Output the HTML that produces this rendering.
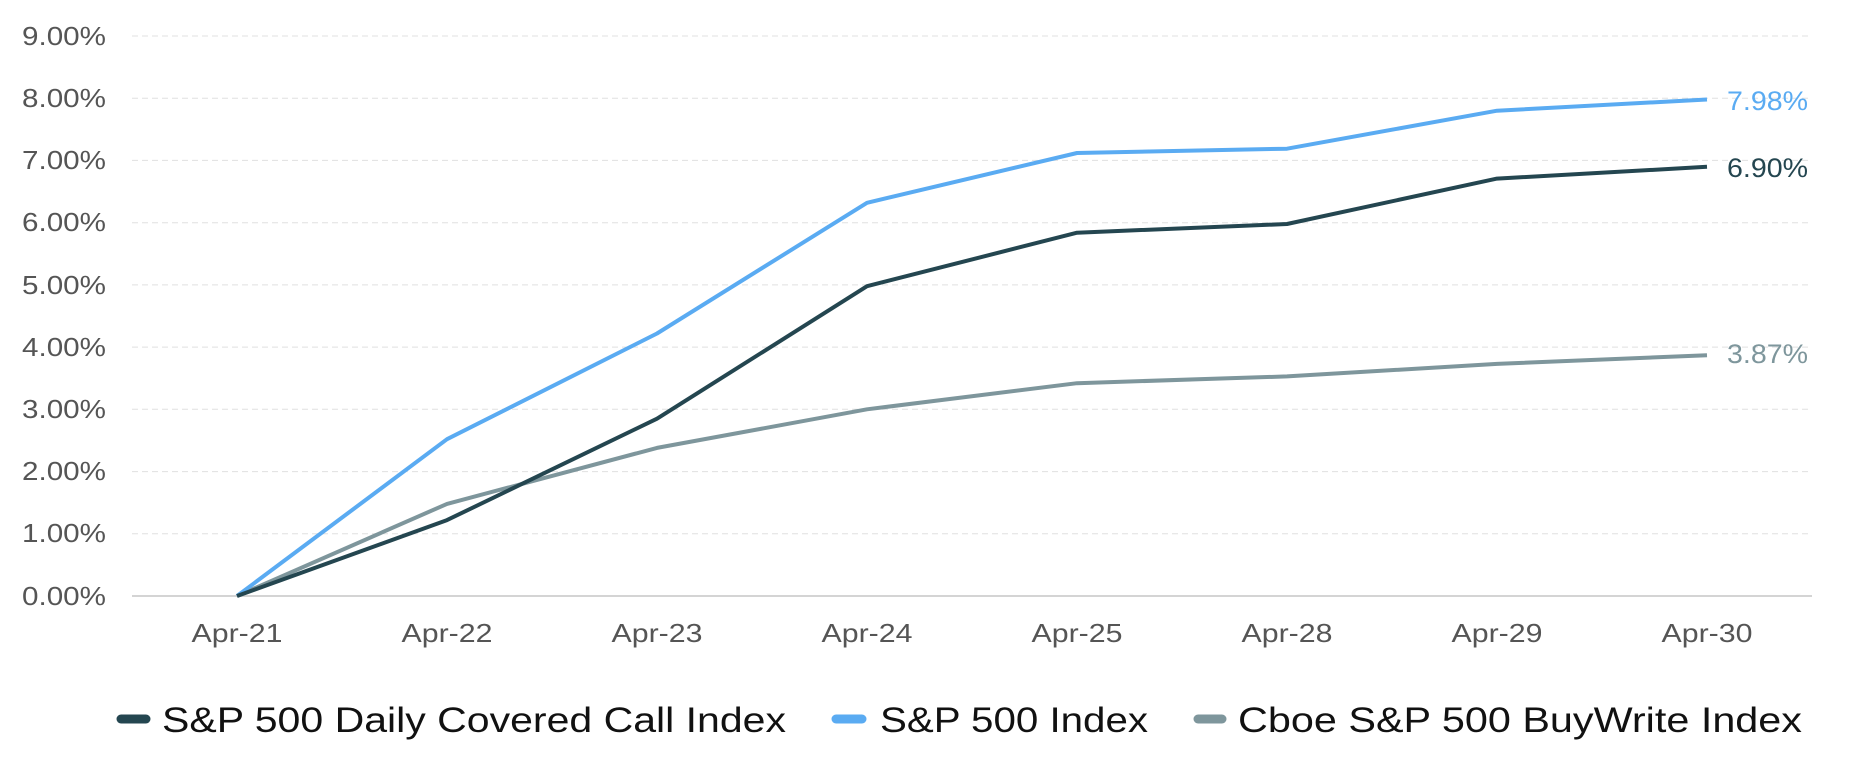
<!DOCTYPE html>
<html><head><meta charset="utf-8"><style>
html,body{margin:0;padding:0;background:#fff;}
svg{display:block;font-family:"Liberation Sans",sans-serif;}
</style></head><body>
<svg width="1875" height="757" viewBox="0 0 1875 757">
<g stroke="#e0e0e0" stroke-width="1" stroke-dasharray="6,4">
<line x1="132" x2="1812" y1="36" y2="36"/>
<line x1="132" x2="1812" y1="98.2" y2="98.2"/>
<line x1="132" x2="1812" y1="160.4" y2="160.4"/>
<line x1="132" x2="1812" y1="222.7" y2="222.7"/>
<line x1="132" x2="1812" y1="284.9" y2="284.9"/>
<line x1="132" x2="1812" y1="347.1" y2="347.1"/>
<line x1="132" x2="1812" y1="409.3" y2="409.3"/>
<line x1="132" x2="1812" y1="471.6" y2="471.6"/>
<line x1="132" x2="1812" y1="533.8" y2="533.8"/>
</g>
<line x1="132" x2="1812" y1="596" y2="596" stroke="#d4d4d4" stroke-width="2"/>
<g fill="#555" font-size="26" text-anchor="end">
<text x="106" y="45" textLength="84" lengthAdjust="spacingAndGlyphs">9.00%</text>
<text x="106" y="107" textLength="84" lengthAdjust="spacingAndGlyphs">8.00%</text>
<text x="106" y="169" textLength="84" lengthAdjust="spacingAndGlyphs">7.00%</text>
<text x="106" y="231" textLength="84" lengthAdjust="spacingAndGlyphs">6.00%</text>
<text x="106" y="294" textLength="84" lengthAdjust="spacingAndGlyphs">5.00%</text>
<text x="106" y="356" textLength="84" lengthAdjust="spacingAndGlyphs">4.00%</text>
<text x="106" y="418" textLength="84" lengthAdjust="spacingAndGlyphs">3.00%</text>
<text x="106" y="480" textLength="84" lengthAdjust="spacingAndGlyphs">2.00%</text>
<text x="106" y="542" textLength="84" lengthAdjust="spacingAndGlyphs">1.00%</text>
<text x="106" y="605" textLength="84" lengthAdjust="spacingAndGlyphs">0.00%</text>
</g>
<g fill="#555" font-size="26" text-anchor="middle">
<text x="237" y="642" textLength="91" lengthAdjust="spacingAndGlyphs">Apr-21</text>
<text x="447" y="642" textLength="91" lengthAdjust="spacingAndGlyphs">Apr-22</text>
<text x="657" y="642" textLength="91" lengthAdjust="spacingAndGlyphs">Apr-23</text>
<text x="867" y="642" textLength="91" lengthAdjust="spacingAndGlyphs">Apr-24</text>
<text x="1077" y="642" textLength="91" lengthAdjust="spacingAndGlyphs">Apr-25</text>
<text x="1287" y="642" textLength="91" lengthAdjust="spacingAndGlyphs">Apr-28</text>
<text x="1497" y="642" textLength="91" lengthAdjust="spacingAndGlyphs">Apr-29</text>
<text x="1707" y="642" textLength="91" lengthAdjust="spacingAndGlyphs">Apr-30</text>
</g>
<g fill="none" stroke-width="4" stroke-linejoin="round">
<polyline stroke="#7e969c" points="237,596 447,503.9 657,447.9 867,409.3 1077,383.2 1287,376.4 1497,363.9 1707,355.2"/>
<polyline stroke="#5aabf2" points="237,596 447,439.2 657,333.5 867,202.8 1077,153 1287,148.7 1497,110.7 1707,99.5"/>
<polyline stroke="#244650" points="237,596 447,520.1 657,418.7 867,286.2 1077,232.7 1287,224 1497,178.6 1707,166.8"/>
</g>
<g font-size="27">
<text x="1727" y="110" fill="#5aabf2" textLength="81" lengthAdjust="spacingAndGlyphs">7.98%</text>
<text x="1727" y="177" fill="#244650" textLength="81" lengthAdjust="spacingAndGlyphs">6.90%</text>
<text x="1727" y="363" fill="#7e969c" textLength="81" lengthAdjust="spacingAndGlyphs">3.87%</text>
</g>
<g stroke-width="9" stroke-linecap="round">
<line x1="121" x2="146" y1="719" y2="719" stroke="#244650"/>
<line x1="836" x2="862" y1="719" y2="719" stroke="#5aabf2"/>
<line x1="1198" x2="1222" y1="719" y2="719" stroke="#7e969c"/>
</g>
<g font-size="35" fill="#111">
<text x="162" y="732" textLength="624" lengthAdjust="spacingAndGlyphs">S&amp;P 500 Daily Covered Call Index</text>
<text x="880" y="732" textLength="268" lengthAdjust="spacingAndGlyphs">S&amp;P 500 Index</text>
<text x="1238" y="732" textLength="564" lengthAdjust="spacingAndGlyphs">Cboe S&amp;P 500 BuyWrite Index</text>
</g>
</svg>
</body></html>
